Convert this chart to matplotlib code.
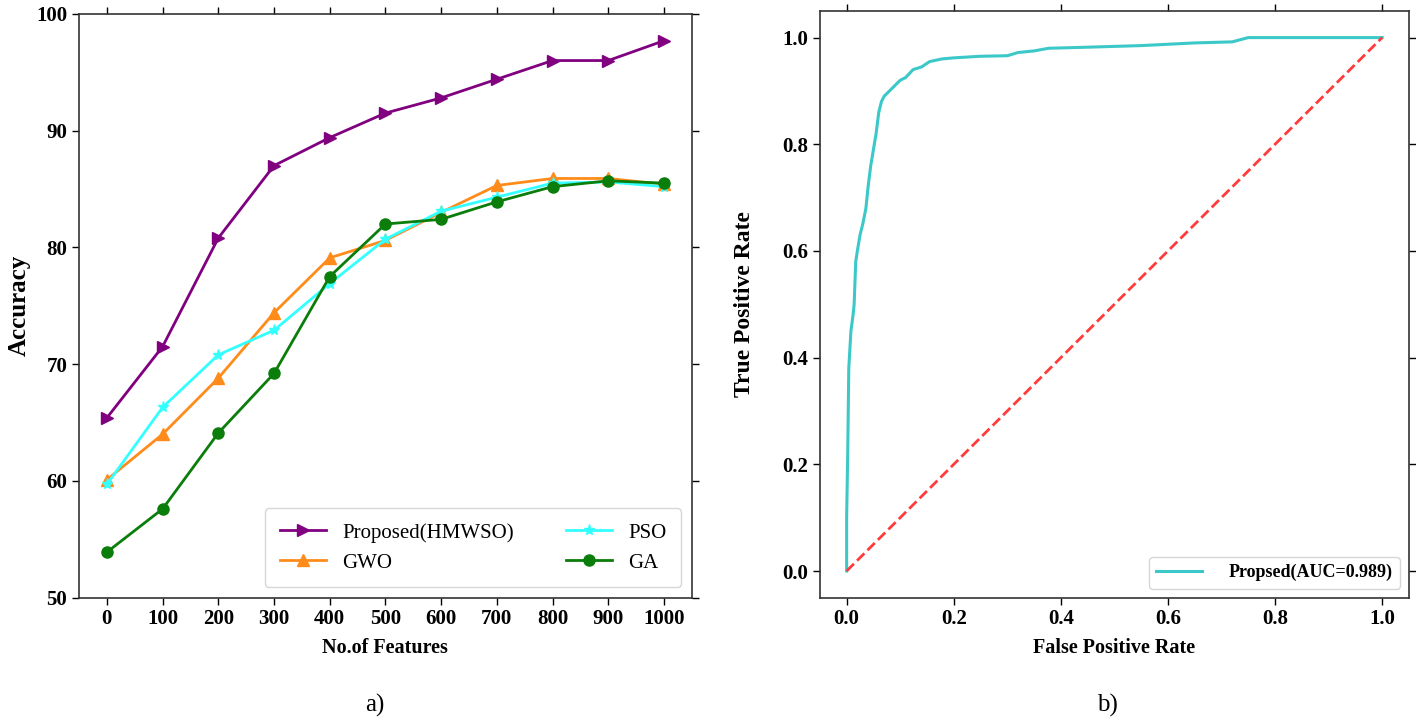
import matplotlib
matplotlib.use("Agg")
import matplotlib.pyplot as plt
import numpy as np

plt.rcParams["font.family"] = ["Liberation Serif", "DejaVu Serif"]

# --- panel a): accuracy vs number of features ---------------------------
features = [0, 100, 200, 300, 400, 500, 600, 700, 800, 900, 1000]
acc_proposed = [65.4, 71.5, 80.8, 87.0, 89.4, 91.5, 92.8, 94.4, 96.0, 96.0, 97.7]
acc_gwo = [60.1, 64.0, 68.8, 74.4, 79.1, 80.6, 83.0, 85.3, 85.9, 85.9, 85.4]
acc_pso = [59.7, 66.3, 70.8, 72.9, 76.9, 80.7, 83.1, 84.3, 85.5, 85.6, 85.2]
acc_ga = [53.9, 57.6, 64.1, 69.2, 77.5, 82.0, 82.4, 83.9, 85.2, 85.7, 85.5]

# --- panel b): ROC curve --------------------------------------------------
fpr = [0.0, 0.0, 0.002, 0.003, 0.004, 0.008, 0.012, 0.014, 0.017, 0.02, 0.025,
       0.03, 0.036, 0.04, 0.045, 0.05, 0.055, 0.06, 0.065, 0.07, 0.08, 0.09,
       0.1, 0.11, 0.124, 0.14, 0.155, 0.178, 0.2, 0.25, 0.3, 0.32, 0.35, 0.377,
       0.45, 0.55, 0.65, 0.72, 0.75, 0.85, 1.0]
tpr = [0.0, 0.1, 0.22, 0.3, 0.38, 0.45, 0.48, 0.5, 0.58, 0.6, 0.63, 0.65, 0.68,
       0.72, 0.76, 0.79, 0.82, 0.86, 0.88, 0.89, 0.9, 0.91, 0.92, 0.925, 0.94,
       0.945, 0.955, 0.96, 0.962, 0.965, 0.966, 0.972, 0.975, 0.98, 0.982,
       0.985, 0.99, 0.992, 1.0, 1.0, 1.0]
auc_label = "Propsed(AUC=0.989)"

fig = plt.figure(figsize=(14.16, 7.28), dpi=100)
ax1 = fig.add_axes([0.0558, 0.179, 0.4328, 0.802])
ax2 = fig.add_axes([0.579, 0.179, 0.416, 0.806])

for ax in (ax1, ax2):
    ax.tick_params(direction="out", top=True, right=True, labelsize=15,
                   length=5, width=1)
    for sp in ax.spines.values():
        sp.set_linewidth(1.2)
        sp.set_color("#333333")

ax1.plot(features, acc_proposed, color="#800080", marker=">", ms=8, lw=2,
         label="Proposed(HMWSO)")
ax1.plot(features, acc_gwo, color="#ff8c1a", marker="^", ms=8, lw=2, label="GWO")
ax1.plot(features, acc_pso, color="#33ffff", marker="*", ms=8, lw=2, label="PSO")
ax1.plot(features, acc_ga, color="#0a7d0a", marker="o", ms=8, lw=2, label="GA")
ax1.set_xlim(-50, 1050)
ax1.set_ylim(50, 100)
ax1.set_xticks(features)
ax1.set_yticks([50, 60, 70, 80, 90, 100])
for lab in ax1.get_xticklabels() + ax1.get_yticklabels():
    lab.set_fontweight("bold")
ax1.set_xlabel("No.of Features", fontsize=14.5, fontweight="bold", labelpad=6)
ax1.set_ylabel("Accuracy", fontsize=18, fontweight="bold")
ax1.yaxis.set_label_coords(-0.078, 0.5)
ax1.legend(loc="lower right", ncol=2, fontsize=15, frameon=True,
           fancybox=True, edgecolor="#cccccc", columnspacing=2.5,
           handlelength=2.2, borderpad=0.7)

ax2.plot(fpr, tpr, color="#3cc8c8", lw=2.2, label=auc_label)
ax2.plot([0, 1], [0, 1], color="#ff3b3b", lw=2, ls="--")
ax2.set_xlim(-0.05, 1.05)
ax2.set_ylim(-0.05, 1.05)
ax2.set_xticks(np.linspace(0, 1, 6))
ax2.set_yticks(np.linspace(0, 1, 6))
for lab in ax2.get_xticklabels() + ax2.get_yticklabels():
    lab.set_fontweight("bold")
ax2.set_xlabel("False Positive Rate", fontsize=14.5, fontweight="bold", labelpad=6)
ax2.set_ylabel("True Positive Rate", fontsize=17, fontweight="bold")
ax2.yaxis.set_label_coords(-0.11, 0.5)
ax2.legend(loc="lower right", frameon=True, fancybox=True,
           edgecolor="#cccccc", handlelength=2.5, handletextpad=1.5,
           prop=dict(weight="bold", size=13))

fig.text(0.265, 0.022, "a)", fontsize=18, ha="center")
fig.text(0.782, 0.022, "b)", fontsize=18, ha="center")

fig.savefig("out.png", dpi=100)
